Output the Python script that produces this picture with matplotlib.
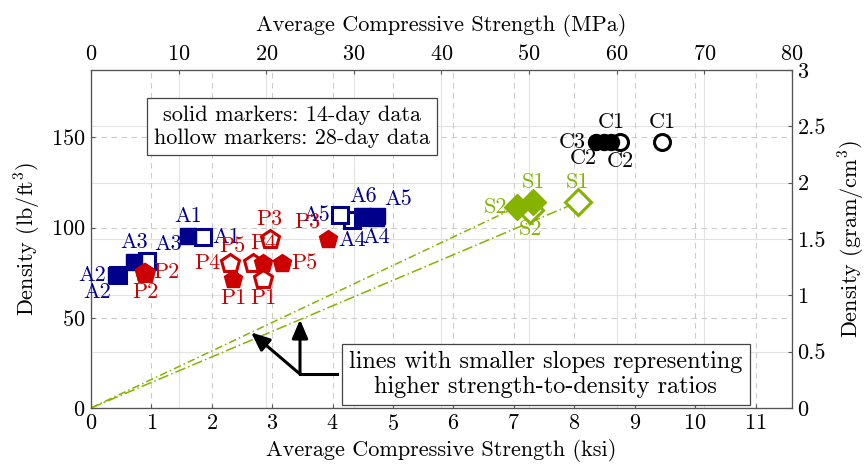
import numpy as np
import matplotlib
matplotlib.use('Agg')
import matplotlib.pyplot as plt

# 字体：接近 LaTeX 的 Computer Modern
plt.rcParams['font.family'] = ['serif']
plt.rcParams['font.serif'] = ['cmr10', 'DejaVu Serif']
plt.rcParams['mathtext.fontset'] = 'cm'
plt.rcParams['axes.formatter.use_mathtext'] = True
plt.rcParams['font.size'] = 16

KSI2MPA = 6.89476
LB2G = 62.428

# 数据（ksi, lb/ft^3），每组：名称、14天（实心）、28天（空心）
a_names = ['A1', 'A2', 'A3', 'A4', 'A5', 'A6']
a_x14 = [1.61, 0.41, 0.71, 4.72, 4.74, 4.50]
a_y14 = [95.3, 73.7, 80.9, 105.5, 106.4, 106.4]
a_x28 = [1.85, 0.45, 0.93, 4.32, 4.12, 4.50]
a_y28 = [94.7, 73.5, 81.4, 104.0, 106.9, 106.0]
a_lab14 = ['n', 'w', 'n', 's', 'ne', 'n']
a_lab28 = ['e', 'sw', 'ne', 's', 'w', None]

p_names = ['P1', 'P2', 'P3', 'P4', 'P5']
p_x14 = [2.35, 0.87, 3.92, 2.85, 3.16]
p_y14 = [71.5, 75.5, 93.6, 80.3, 80.3]
p_x28 = [2.85, 0.90, 2.96, 2.30, 2.68]
p_y28 = [71.5, 75.0, 93.6, 80.3, 80.3]
p_lab14 = ['s', 'e', 'nw', 'n', 'e']
p_lab28 = ['s', 's', 'n', 'w', 'nw']

s_names = ['S1', 'S2']
s_x14 = [7.32, 7.05]
s_y14 = [114.1, 111.4]
s_x28 = [8.06, 7.27]
s_y28 = [114.1, 109.7]
s_lab14 = ['n', 'w']
s_lab28 = ['n', 's']

c_names = ['C1', 'C2', 'C3']
c_x14 = [8.61, 8.49, 8.36]
c_y14 = [147.4, 147.4, 147.4]
c_x28 = [9.45, 8.76]
c_y28 = [147.4, 147.4]
c_lab14 = ['n', 'sw', 'w']
c_lab28 = ['n', 's']

# 斜线终点（强度-密度比）
line_ends = [(7.05, 111.4), (8.06, 114.1)]

navy = '#00008B'
red = '#CC0000'
green = '#86B300'

offsets = {'n': (0, 7, 'center', 'bottom'), 's': (0, -7, 'center', 'top'),
           'e': (7, 0, 'left', 'center'), 'w': (-7, 0, 'right', 'center'),
           'ne': (5, 5, 'left', 'bottom'), 'nw': (-5, 5, 'right', 'bottom'),
           'sw': (-5, -5, 'right', 'top'), 'se': (5, -5, 'left', 'top')}

fig = plt.figure(figsize=(8.68, 4.68), dpi=100)
ax = fig.add_axes([0.1048, 0.1282, 0.8076, 0.7222])
ax_top = ax.twiny()
ax_r = ax.twinx()
ax.set_zorder(3)
ax.patch.set_visible(False)

xmax = 80 / KSI2MPA
ymax = 3 * LB2G
ax.set_xlim(0, xmax)
ax.set_ylim(0, ymax)
ax_top.set_xlim(0, 80)
ax_r.set_ylim(0, 3)

ax.set_xticks(range(0, 12))
ax.set_yticks([0, 50, 100, 150])
ax_top.set_xticks(range(0, 81, 10))
ax_r.set_yticks([0, 0.5, 1, 1.5, 2, 2.5, 3])
ax_r.set_yticklabels(['0', '0.5', '1', '1.5', '2', '2.5', '3'])

ax.grid(True, color='#cccccc', linestyle=(0, (5, 4)), linewidth=0.8)
ax_top.grid(True, axis='x', color='#e2e2e2', linewidth=0.8)
ax_r.grid(True, axis='y', color='#e2e2e2', linewidth=0.8)

for a in (ax, ax_top, ax_r):
    a.tick_params(direction='in', length=3, color='#555555', pad=4)
    for s in a.spines.values():
        s.set_color('#555555')

ax.set_xlabel('Average Compressive Strength (ksi)', labelpad=4)
ax.set_ylabel(r'Density (lb/ft$^3$)', labelpad=6)
ax_top.set_xlabel('Average Compressive Strength (MPa)', labelpad=10)
ax_r.set_ylabel(r'Density (gram/cm$^3$)', labelpad=8)

# 斜线
styles = [(0, (5, 2, 1, 2)), (0, (7, 2, 1, 2))]
for (xe, ye), ls in zip(line_ends, styles):
    ax.plot([0, xe], [0, ye], color=green, linestyle=ls, linewidth=1.1, zorder=2)


def draw(names, xs, ys, labs, marker, color, ms, hollow):
    for n, x, y, d in zip(names, xs, ys, labs):
        if hollow:
            ax.plot(x, y, marker=marker, ms=ms, mfc='white', mec=color, mew=2.2,
                    ls='none', zorder=4)
        else:
            ax.plot(x, y, marker=marker, ms=ms, mfc=color, mec=color, mew=1,
                    ls='none', zorder=5)
        if d is not None:
            dx, dy, ha, va = offsets[d]
            ax.annotate(n, (x, y), xytext=(dx, dy), textcoords='offset points',
                        ha=ha, va=va, color=color, fontsize=16, zorder=6)


draw(a_names, a_x28, a_y28, a_lab28, 's', navy, 11.5, True)
draw(a_names, a_x14, a_y14, a_lab14, 's', navy, 11.5, False)
draw(p_names, p_x28, p_y28, p_lab28, 'p', red, 13.5, True)
draw(p_names, p_x14, p_y14, p_lab14, 'p', red, 13.5, False)
draw(s_names, s_x28, s_y28, s_lab28, 'D', green, 13.5, True)
draw(s_names, s_x14, s_y14, s_lab14, 'D', green, 13.5, False)
draw(c_names[:2], c_x28, c_y28, c_lab28, 'o', 'black', 11.5, True)
draw(c_names, c_x14, c_y14, c_lab14, 'o', 'black', 11.5, False)

# 图例说明框
ax.text(0.287, 0.833, 'solid markers: 14-day data\nhollow markers: 28-day data',
        transform=ax.transAxes, ha='center', va='center', fontsize=16,
        linespacing=1.25, zorder=7,
        bbox=dict(boxstyle='square,pad=0.3', fc='white', ec='#444444', lw=0.9))

# 箭头说明
ax.text(0.649, 0.10, 'lines with smaller slopes representing\nhigher strength-to-density ratios',
        transform=ax.transAxes, ha='center', va='center', fontsize=17.5,
        linespacing=1.15, zorder=7,
        bbox=dict(boxstyle='square,pad=0.3', fc='white', ec='#444444', lw=0.9))
elbow = (3.46, 18.8)
ax.plot([elbow[0], 4.07], [elbow[1], elbow[1]], color='black', lw=2.2, zorder=6.5)
k_up = line_ends[1][1] / line_ends[1][0]
k_lo = line_ends[0][1] / line_ends[0][0]
arrow = dict(arrowstyle='-|>,head_length=0.7,head_width=0.3', color='black', lw=2.2,
             shrinkA=0, shrinkB=0)
ax.annotate('', xy=(elbow[0], elbow[0] * k_up), xytext=elbow, arrowprops=arrow, zorder=7)
ax.annotate('', xy=(2.65, 2.65 * k_lo), xytext=elbow, arrowprops=arrow, zorder=7)

fig.savefig('out.png', dpi=100)
